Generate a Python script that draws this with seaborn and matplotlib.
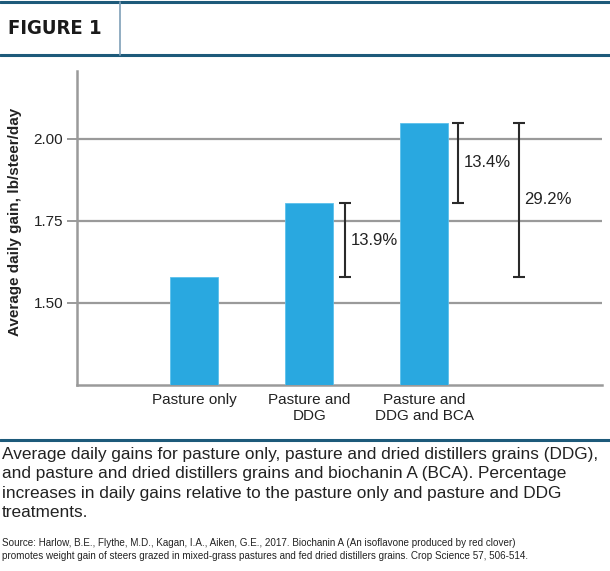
import matplotlib
matplotlib.use("Agg")
import matplotlib.pyplot as plt
import seaborn as sns
import pandas as pd

treatments = ["Pasture only", "Pasture and\nDDG", "Pasture and\nDDG and BCA"]
daily_gain = [1.578, 1.805, 2.050]

# percentage brackets: (from bar, to bar, label, x position in category units)
bracket_from = [0, 1, 0]
bracket_to = [1, 2, 2]
bracket_labels = ["13.9%", "13.4%", "29.2%"]
bracket_x = [1.31, 2.29, 2.82]

yticks = [1.50, 1.75, 2.00]

df = pd.DataFrame({"Treatment": treatments, "ADG": daily_gain})

sns.set_style("white")
plt.rcParams["font.family"] = ["Liberation Sans", "DejaVu Sans"]

fig = plt.figure(figsize=(6.1, 5.71), dpi=100)
ax = fig.add_axes([77 / 610, 1 - 385 / 571, (602 - 77) / 610, (385 - 71) / 571])

sns.barplot(data=df, x="Treatment", y="ADG", color="#29A8E0", width=0.42,
            saturation=1, edgecolor="#5cc0ec", linewidth=0.6, ax=ax, zorder=3)

ax.set_ylim(1.25, 2.207)
ax.set_xlim(-1.02, 3.545)
ax.set_yticks(yticks)
ax.set_yticklabels([f"{v:.2f}" for v in yticks], fontsize=11, color="#222222")
ax.set_xticks(range(len(treatments)))
ax.set_xticklabels(treatments, fontsize=11, color="#222222", linespacing=1.15)
ax.yaxis.grid(True, color="#9a9a9a", linewidth=1.6, zorder=1)
ax.tick_params(axis="y", length=7, width=1.4, color="#9a9a9a", pad=3, left=True)
ax.tick_params(axis="x", length=0, pad=6)
for s in ["top", "right"]:
    ax.spines[s].set_visible(False)
for s in ["left", "bottom"]:
    ax.spines[s].set_color("#9a9a9a")
    ax.spines[s].set_linewidth(1.8)
ax.set_xlabel("")
ax.set_ylabel("Average daily gain, lb/steer/day", fontsize=11, fontweight="bold",
              color="#222222")
ax.yaxis.set_label_coords(-0.105, 0.52)

for a, b, lab, bx in zip(bracket_from, bracket_to, bracket_labels, bracket_x):
    lo, hi = daily_gain[a], daily_gain[b]
    ax.errorbar(bx, (lo + hi) / 2, yerr=(hi - lo) / 2, fmt="none", ecolor="#2a2a2a",
                elinewidth=1.5, capsize=4.5, capthick=1.5, zorder=4)
    ax.text(bx + 0.05, (lo + hi) / 2, lab, fontsize=12, color="#222222",
            va="center", ha="left")

# header
blue = "#1d5a7a"
fig.add_artist(plt.Line2D([0, 1], [1 - 2 / 571, 1 - 2 / 571], color=blue, linewidth=2.2))
fig.add_artist(plt.Line2D([0, 1], [1 - 55 / 571, 1 - 55 / 571], color=blue, linewidth=2.2))
fig.add_artist(plt.Line2D([120 / 610, 120 / 610], [1 - 55 / 571, 1 - 2 / 571],
                          color="#7f9fb8", linewidth=1.2))
fig.text(8 / 610, 1 - 28 / 571, "FIGURE 1", fontsize=14.5, fontweight="bold",
         color="#1a1a1a", va="center", ha="left",
         family=["DejaVu Sans"], fontstretch="condensed")
fig.add_artist(plt.Line2D([0, 1], [1 - 440 / 571, 1 - 440 / 571], color=blue, linewidth=2.2))

caption = ("Average daily gains for pasture only, pasture and dried distillers grains (DDG),\n"
           "and pasture and dried distillers grains and biochanin A (BCA). Percentage\n"
           "increases in daily gains relative to the pasture only and pasture and DDG\n"
           "treatments.")
fig.text(2 / 610, 1 - 447 / 571, caption, fontsize=12.4, color="#222222", va="top",
         ha="left", linespacing=1.37)
source = ("Source: Harlow, B.E., Flythe, M.D., Kagan, I.A., Aiken, G.E., 2017. Biochanin A (An isoflavone produced by red clover)\n"
          "promotes weight gain of steers grazed in mixed-grass pastures and fed dried distillers grains. Crop Science 57, 506-514.")
fig.text(2 / 610, 1 - 538 / 571, source, fontsize=7.1, color="#222222", va="top",
         ha="left", linespacing=1.35)

fig.savefig("out.png", dpi=100)
